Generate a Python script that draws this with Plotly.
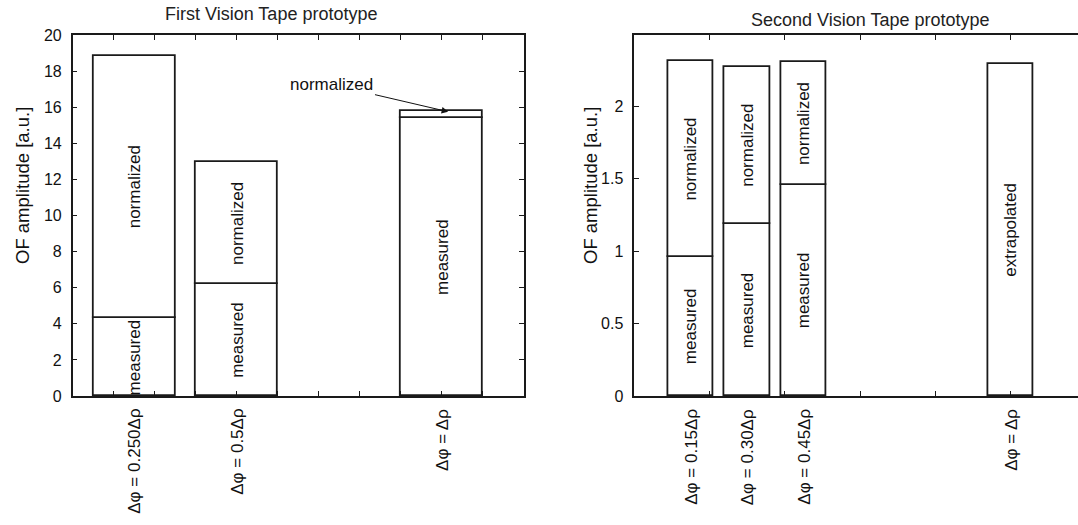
import plotly.graph_objects as go

# ---------------- data ----------------
left_labels = ["Δφ = 0.250Δρ", "Δφ = 0.5Δρ", "Δφ = Δρ"]
left_x = [1.5, 4.0, 9.0]
left_measured = [4.3, 6.2, 15.4]
left_total = [18.85, 12.95, 15.8]

right_labels = ["Δφ = 0.15Δρ", "Δφ = 0.30Δρ", "Δφ = 0.45Δρ", "Δφ = Δρ"]
right_x = [0.75, 1.5, 2.25, 5.0]
right_measured = [0.96, 1.186, 1.455, None]
right_total = [2.312, 2.269, 2.306, None]
right_extrap = [None, None, None, 2.292]

left_xticks = list(range(1, 11))
right_xticks = list(range(1, 6))
left_yticks = list(range(0, 21, 2))
right_yticks = [0, 0.5, 1, 1.5, 2]
right_yticktext = ["0", "0.5", "1", "1.5", "2"]

FONT = "Liberation Sans"
LC = "#1a1a1a"

fig = go.Figure()

def bar(x, base, top, width, xa, ya):
    xs, bs, hs = [], [], []
    for xi, b, t in zip(x, base, top):
        if b is None or t is None:
            continue
        xs.append(xi); bs.append(b); hs.append(t - b)
    fig.add_trace(go.Bar(x=xs, y=hs, base=bs, width=width, xaxis=xa, yaxis=ya,
                         marker=dict(color="white", line=dict(color=LC, width=1.8)),
                         showlegend=False, hoverinfo="skip"))

# left
zeros_l = [0] * len(left_x)
bar(left_x, zeros_l, left_measured, 2.0, "x", "y")
bar(left_x[:2], left_measured[:2], left_total[:2], 2.0, "x", "y")
bar(left_x[2:], left_measured[2:], left_total[2:], 2.0, "x", "y")
# right
zeros_r = [0] * len(right_x)
bar(right_x, zeros_r, right_measured, 0.6, "x2", "y2")
bar(right_x, right_measured, right_total, 0.6, "x2", "y2")
bar(right_x, zeros_r, right_extrap, 0.6, "x2", "y2")

y0 = 1 - 396 / 525
y1 = 1 - 35 / 525

ann = []
def seglabel(text, x, lo, hi, xr, yr):
    ann.append(dict(text=text, x=x, y=(lo + hi) / 2, xref=xr, yref=yr, textangle=-90,
                    showarrow=False, font=dict(family=FONT, size=17, color="#111")))

for xi, m, t in zip(left_x, left_measured, left_total):
    seglabel("measured", xi, 0, m, "x", "y")
for xi, m, t in list(zip(left_x, left_measured, left_total))[:2]:
    seglabel("normalized", xi, m, t, "x", "y")
for xi, m, t in zip(right_x, right_measured, right_total):
    if m is None:
        continue
    seglabel("measured", xi, 0, m, "x2", "y2")
    seglabel("normalized", xi, m, t, "x2", "y2")
for xi, e in zip(right_x, right_extrap):
    if e is not None:
        seglabel("extrapolated", xi, 0, e, "x2", "y2")

# category labels below the axes
for labels, xs, xr in ((left_labels, left_x, "x"), (right_labels, right_x, "x2")):
    for lab, xi in zip(labels, xs):
        ann.append(dict(text=lab, x=xi, y=y0, xref=xr, yref="paper", yanchor="top", xanchor="center",
                        yshift=-11, textangle=-90, showarrow=False,
                        font=dict(family=FONT, size=17, color="#111")))

# arrow annotation for thin normalized slice
ann.append(dict(text="normalized", x=left_x[2] + 0.15, y=(left_measured[2] + left_total[2]) / 2 + 0.15,
                xref="x", yref="y", ax=6.32, ay=17.25, axref="x", ayref="y",
                showarrow=True, arrowhead=2, arrowsize=1.3, arrowwidth=1, arrowcolor="#111",
                font=dict(family=FONT, size=17, color="#111")))

# titles
ann.append(dict(text="First Vision Tape prototype", x=271 / 1078, y=1 - 14 / 525, xref="paper", yref="paper",
                xanchor="center", yanchor="middle",
                showarrow=False, font=dict(family=FONT, size=18, color="#222")))
ann.append(dict(text="Second Vision Tape prototype", x=870 / 1078, y=1 - 20 / 525, xref="paper", yref="paper",
                xanchor="center", yanchor="middle",
                showarrow=False, font=dict(family=FONT, size=18, color="#222")))
# y titles
for xp in (22 / 1078, 590 / 1078):
    ann.append(dict(text="OF amplitude [a.u.]", x=xp, y=1 - 186 / 525, xref="paper", yref="paper",
                    xanchor="center", yanchor="middle",
                    textangle=-90, showarrow=False, font=dict(family=FONT, size=18.5, color="#111")))

common_x = dict(showline=True, linecolor=LC, linewidth=1.5, showgrid=False, zeroline=False,
                automargin=False, ticks="inside", ticklen=5, tickcolor=LC, tickwidth=1,
                showticklabels=False, mirror="ticks", tickmode="array")
common_y = dict(showline=True, linecolor=LC, linewidth=1.5, showgrid=False, zeroline=False,
                automargin=False, ticks="inside", ticklen=5, tickcolor=LC, tickwidth=1, ticklabelstandoff=6,
                tickfont=dict(family=FONT, size=16, color="#111"))

xl = [72.7 / 1078, 524 / 1078]
xr = [634.3 / 1078, 1.0]
rl = [0, 11]
rr = [0, 443.7 / 75.3]

fig.update_layout(
    width=1078, height=525, margin=dict(l=0, r=0, t=0, b=0, autoexpand=False),
    paper_bgcolor="white", plot_bgcolor="white", barmode="overlay", bargap=0,
    xaxis=dict(domain=xl, range=rl, tickvals=left_xticks, anchor="y", **common_x),
    yaxis=dict(domain=[y0, y1], range=[0, 20], tickvals=left_yticks, mirror="ticks", anchor="x", **common_y),
    xaxis2=dict(domain=xr, range=rr, tickvals=right_xticks, anchor="y2", **common_x),
    yaxis2=dict(domain=[y0, y1], range=[0, 2.49], tickvals=right_yticks, ticktext=right_yticktext,
                mirror=False, anchor="x2", **common_y),
    annotations=ann,
)

fig.write_html("out.html")
